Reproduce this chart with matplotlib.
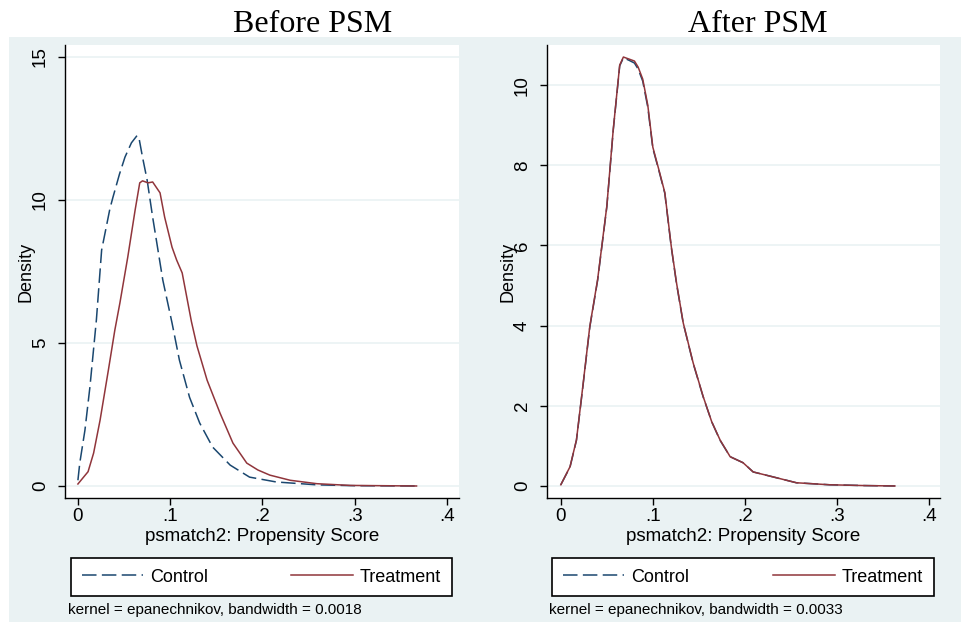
import matplotlib
matplotlib.use("Agg")
import matplotlib.pyplot as plt
from matplotlib.lines import Line2D
from matplotlib.patches import Rectangle

# kernel density curves (Stata kdensity output)
ctrl_before_x = [0.0, 0.002, 0.0076, 0.013, 0.02, 0.0257, 0.0347, 0.038, 0.045, 0.051, 0.058, 0.064,
                 0.066, 0.070, 0.075, 0.081, 0.092, 0.102, 0.11, 0.121, 0.132, 0.146, 0.165, 0.186,
                 0.215, 0.259, 0.30, 0.367]
ctrl_before_y = [0.2, 0.8, 1.95, 3.46, 5.8, 8.25, 9.7, 10.1, 10.9, 11.5, 12.0, 12.25,
                 12.2, 11.5, 10.7, 9.4, 7.2, 5.7, 4.4, 3.1, 2.2, 1.36, 0.73, 0.31,
                 0.14, 0.04, 0.01, 0.0]

trt_before_x = [0.0, 0.011, 0.017, 0.024, 0.033, 0.040, 0.0455, 0.054, 0.062, 0.067, 0.070, 0.076,
                0.081, 0.089, 0.094, 0.102, 0.107, 0.113, 0.118, 0.123, 0.129, 0.140, 0.154, 0.168,
                0.183, 0.195, 0.208, 0.230, 0.259, 0.295, 0.33, 0.367]
trt_before_y = [0.07, 0.5, 1.15, 2.3, 4.05, 5.45, 6.4, 8.0, 9.65, 10.6, 10.67, 10.6,
                10.63, 10.25, 9.4, 8.35, 7.9, 7.45, 6.6, 5.75, 4.9, 3.7, 2.55, 1.5,
                0.8, 0.56, 0.38, 0.2, 0.08, 0.02, 0.01, 0.0]

trt_after_x = [0.0, 0.01, 0.017, 0.024, 0.0315, 0.04, 0.05, 0.057, 0.064, 0.068, 0.074, 0.080,
               0.084, 0.089, 0.0945, 0.10, 0.107, 0.113, 0.120, 0.1257, 0.133, 0.1438, 0.1547, 0.164,
               0.173, 0.184, 0.198, 0.209, 0.23, 0.256, 0.292, 0.33, 0.363]
trt_after_y = [0.03, 0.48, 1.15, 2.5, 3.98, 5.15, 6.98, 8.9, 10.5, 10.7, 10.65, 10.6,
               10.45, 10.15, 9.5, 8.45, 7.85, 7.32, 5.98, 5.07, 4.07, 3.07, 2.23, 1.6,
               1.15, 0.73, 0.58, 0.35, 0.23, 0.08, 0.03, 0.01, 0.0]

ctrl_after_x = [0.0, 0.01, 0.017, 0.024, 0.0315, 0.04, 0.05, 0.057, 0.064, 0.068, 0.074, 0.080,
                0.084, 0.089, 0.0945, 0.10, 0.107, 0.113, 0.120, 0.1257, 0.133, 0.1438, 0.1547, 0.164,
                0.173, 0.184, 0.198, 0.209, 0.23, 0.256, 0.292, 0.33, 0.363]
ctrl_after_y = [0.03, 0.47, 1.14, 2.48, 3.96, 5.13, 6.96, 8.88, 10.48, 10.68, 10.62, 10.55,
                10.4, 10.1, 9.45, 8.42, 7.83, 7.3, 5.96, 5.05, 4.06, 3.06, 2.22, 1.6,
                1.14, 0.73, 0.58, 0.35, 0.23, 0.08, 0.03, 0.01, 0.0]

xticks = [0, 0.1, 0.2, 0.3, 0.4]
xtick_labels = ["0", ".1", ".2", ".3", ".4"]
yticks_before = [0, 5, 10, 15]
yticks_after = [0, 2, 4, 6, 8, 10]
titles = ["Before PSM", "After PSM"]
bandwidths = ["0.0018", "0.0033"]

NAVY = "#1a476f"
MAROON = "#90353b"
BG = "#eaf2f3"
SANS = ["Liberation Sans", "DejaVu Sans"]

plt.rcParams["font.family"] = SANS

W, H = 961, 622
fig = plt.figure(figsize=(W / 100, H / 100), dpi=100)
fig.patches.append(Rectangle((9 / W, 0), 1 - 9 / W, 1 - 37 / H, transform=fig.transFigure,
                             facecolor=BG, edgecolor="none", zorder=-10))

panels = [
    dict(left=65, right=459, ylim=(-0.42, 15.42), xlim=(-0.014, 0.413), yticks=yticks_before,
         ctrl=(ctrl_before_x, ctrl_before_y), trt=(trt_before_x, trt_before_y),
         title_x=312.5, leg=(71, 452), note_x=68),
    dict(left=547, right=940, ylim=(-0.3, 11.0), xlim=(-0.015, 0.412), yticks=yticks_after,
         ctrl=(ctrl_after_x, ctrl_after_y), trt=(trt_after_x, trt_after_y),
         title_x=757.5, leg=(552, 934), note_x=549),
]

for i, p in enumerate(panels):
    top, bottom = 45, 498
    ax = fig.add_axes([p["left"] / W, 1 - bottom / H, (p["right"] - p["left"]) / W, (bottom - top) / H])
    ax.set_facecolor("white")
    ax.set_xlim(*p["xlim"])
    ax.set_ylim(*p["ylim"])
    for t in p["yticks"]:
        ax.axhline(t, color=BG, lw=1.2, zorder=1)
    ax.plot(p["ctrl"][0], p["ctrl"][1], color=NAVY, lw=1.1, dashes=(9.5, 3.5), zorder=3)
    ax.plot(p["trt"][0], p["trt"][1], color=MAROON, lw=1.1, zorder=4)

    for s in ["top", "right"]:
        ax.spines[s].set_visible(False)
    for s in ["left", "bottom"]:
        ax.spines[s].set_linewidth(1.0)
        ax.spines[s].set_color("black")
    ax.set_xticks(xticks)
    ax.set_xticklabels(xtick_labels)
    ax.set_yticks(p["yticks"])
    ax.set_yticklabels([str(t) for t in p["yticks"]])
    ax.tick_params(axis="both", length=5, width=1.0, labelsize=13.5, colors="black")
    ax.tick_params(axis="x", pad=2)
    ax.tick_params(axis="y", pad=6.5, labelrotation=90)
    for lbl in ax.get_yticklabels():
        lbl.set_va("center")
    ax.set_ylabel("Density", fontsize=13)
    ax.yaxis.set_label_coords(-0.078, 0.5)
    ax.set_xlabel("psmatch2: Propensity Score", fontsize=13.5)
    ax.xaxis.set_label_coords(0.5, -0.066)

    fig.text(p["title_x"] / W, 1 - 32 / H, titles[i], family=["Liberation Serif", "DejaVu Serif"],
             fontsize=23, ha="center", va="baseline")

    l0, l1 = p["leg"]
    h_c = Line2D([], [], color=NAVY, lw=1.1, dashes=(9.5, 3.5))
    h_t = Line2D([], [], color=MAROON, lw=1.1)
    leg = fig.legend([h_c, h_t], ["Control", "Treatment"], ncol=2, mode="expand",
                     bbox_to_anchor=(l0 / W, 1 - 577 / H, (l1 - l0) / W, 0), loc="center",
                     fontsize=13, handlelength=3.4, handletextpad=0.4, borderpad=0.6,
                     borderaxespad=0, fancybox=False, framealpha=1, edgecolor="black")
    leg.get_frame().set_linewidth(1.2)

    fig.text(p["note_x"] / W, 1 - 610 / H, "kernel = epanechnikov, bandwidth = " + bandwidths[i],
             fontsize=11, ha="left", va="center")

fig.savefig("out.png", dpi=100)
